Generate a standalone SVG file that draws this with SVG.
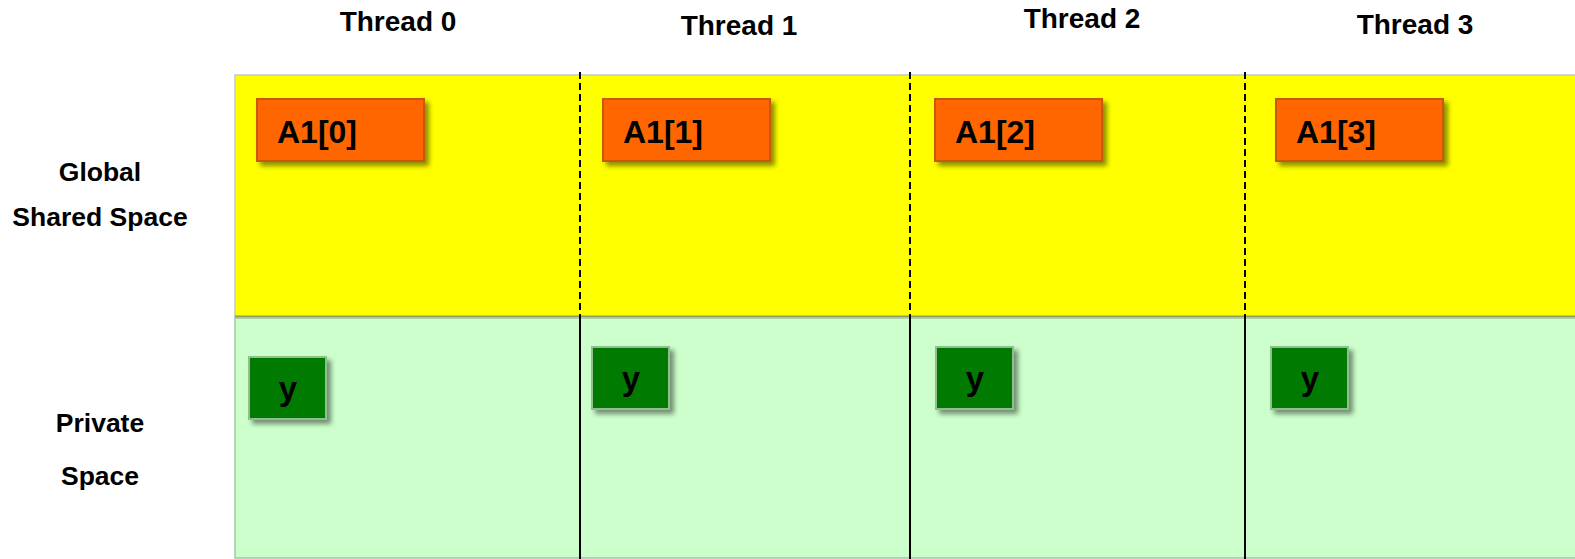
<svg xmlns="http://www.w3.org/2000/svg" width="1575" height="559" viewBox="0 0 1575 559">
  <style>
    .lbl { font-family: "Liberation Sans", Arial, sans-serif; font-weight: bold; fill: #000; }
    .head { font-size: 28px; text-anchor: middle; }
    .side { font-size: 26.5px; text-anchor: middle; }
    .arr { fill: #FF6600; stroke: #C55A11; stroke-width: 2; filter: url(#shadow); }
    .arrTxt { font-size: 32px; }
    .var { fill: #007A00; stroke: #8FBF8F; stroke-width: 2; filter: url(#shadow); }
    .varTxt { font-size: 33px; text-anchor: middle; }
    .dash { stroke: #000; stroke-width: 2; stroke-dasharray: 7 4; }
    .solid { stroke: #000; stroke-width: 2; }
  </style>
  <defs>
    <filter id="shadow" x="-20%" y="-30%" width="150%" height="170%">
      <feGaussianBlur in="SourceAlpha" stdDeviation="2.5"/>
      <feOffset dx="4" dy="4" result="b"/>
      <feComponentTransfer><feFuncA type="linear" slope="0.45"/></feComponentTransfer>
      <feMerge><feMergeNode/><feMergeNode in="SourceGraphic"/></feMerge>
    </filter>
  </defs>

  <rect width="1575" height="559" fill="#FFFFFF"/>

  <!-- memory regions -->
  <g id="global-space">
    <rect x="235" y="75" width="1345" height="242" fill="#FFFF00" stroke="#C8C8C8" stroke-width="1.5"/>
    <line x1="235" y1="316.5" x2="1575" y2="316.5" stroke="#9A9A5A" stroke-width="2"/>
  </g>
  <g id="private-space">
    <rect x="235" y="318" width="1345" height="240" fill="#CCFFCC" stroke="#A0C8A0" stroke-width="1.5"/>
  </g>

  <!-- thread partitions -->
  <g id="connectors">
    <line class="dash" x1="580" y1="72" x2="580" y2="316"/>
    <line class="dash" x1="910" y1="72" x2="910" y2="316"/>
    <line class="dash" x1="1245" y1="72" x2="1245" y2="316"/>
    <line class="solid" x1="580" y1="316" x2="580" y2="559"/>
    <line class="solid" x1="910" y1="316" x2="910" y2="559"/>
    <line class="solid" x1="1245" y1="316" x2="1245" y2="559"/>
  </g>

  <!-- thread headers -->
  <g id="headers">
    <text class="lbl head" x="398" y="31">Thread 0</text>
    <text class="lbl head" x="739" y="35">Thread 1</text>
    <text class="lbl head" x="1082" y="28">Thread 2</text>
    <text class="lbl head" x="1415" y="34">Thread 3</text>
  </g>

  <!-- row labels -->
  <g id="row-labels">
    <text class="lbl side" x="100" y="181">Global</text>
    <text class="lbl side" x="100" y="226">Shared Space</text>
    <text class="lbl side" x="100" y="432">Private</text>
    <text class="lbl side" x="100" y="485">Space</text>
  </g>

  <!-- shared array elements -->
  <g id="a1-0">
    <rect class="arr" x="257" y="99" width="167" height="62"/>
    <text class="lbl arrTxt" x="277" y="143">A1[0]</text>
  </g>
  <g id="a1-1">
    <rect class="arr" x="603" y="99" width="167" height="62"/>
    <text class="lbl arrTxt" x="623" y="143">A1[1]</text>
  </g>
  <g id="a1-2">
    <rect class="arr" x="935" y="99" width="167" height="62"/>
    <text class="lbl arrTxt" x="955" y="143">A1[2]</text>
  </g>
  <g id="a1-3">
    <rect class="arr" x="1276" y="99" width="167" height="62"/>
    <text class="lbl arrTxt" x="1296" y="143">A1[3]</text>
  </g>

  <!-- private variables -->
  <g id="y-0">
    <rect class="var" x="249" y="357" width="77" height="62"/>
    <text class="lbl varTxt" x="288" y="400">y</text>
  </g>
  <g id="y-1">
    <rect class="var" x="592" y="347" width="77" height="62"/>
    <text class="lbl varTxt" x="631" y="390">y</text>
  </g>
  <g id="y-2">
    <rect class="var" x="936" y="347" width="77" height="62"/>
    <text class="lbl varTxt" x="975" y="390">y</text>
  </g>
  <g id="y-3">
    <rect class="var" x="1271" y="347" width="77" height="62"/>
    <text class="lbl varTxt" x="1310" y="390">y</text>
  </g>
</svg>
